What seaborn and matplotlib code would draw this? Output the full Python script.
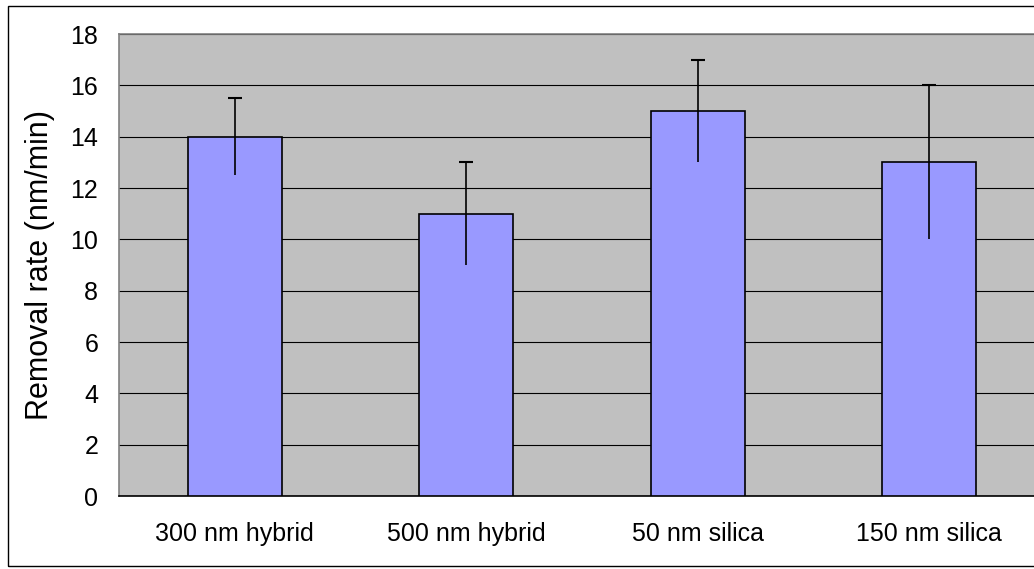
import matplotlib
matplotlib.use("Agg")
import matplotlib.pyplot as plt
import matplotlib.patches as mpatches
import seaborn as sns
import pandas as pd
import numpy as np

categories = ["300 nm hybrid", "500 nm hybrid", "50 nm silica", "150 nm silica"]
removal_rate = [14, 11, 15, 13]
rate_error = [1.5, 2, 2, 3]
y_ticks = [0, 2, 4, 6, 8, 10, 12, 14, 16, 18]

df = pd.DataFrame({"sample": categories, "rate": removal_rate})

sns.set_style("white")
plt.rcParams["font.family"] = ["Liberation Sans", "DejaVu Sans"]
plt.rcParams["text.color"] = "black"
plt.rcParams["axes.labelcolor"] = "black"
plt.rcParams["xtick.color"] = "black"
plt.rcParams["ytick.color"] = "black"

W, H = 1034, 569
fig = plt.figure(figsize=(W / 100, H / 100), dpi=100)
fig.patch.set_facecolor("white")

# outer chart border (right side runs past the canvas)
fig.add_artist(mpatches.Rectangle((8 / W, 1 - 566 / H), 1.2, (566 - 6) / H,
                                  transform=fig.transFigure, fill=False,
                                  edgecolor="black", linewidth=1.0, clip_on=False))

left, right, top, bottom = 119, 1045, 34, 496
ax = fig.add_axes([left / W, 1 - bottom / H, (right - left) / W, (bottom - top) / H])
ax.set_facecolor("#C0C0C0")

sns.barplot(data=df, x="sample", y="rate", ax=ax, color="#9999FF",
            edgecolor="black", linewidth=1.2, width=0.406, saturation=1,
            errorbar=None, zorder=3)

xs = np.arange(len(categories))
vals = np.array(removal_rate, dtype=float)
errs = np.array(rate_error, dtype=float)
ax.errorbar(xs, vals, yerr=errs, fmt="none", ecolor="black", elinewidth=1.2,
            capsize=0, zorder=4)
ax.plot(xs, vals + errs, linestyle="none", marker="_", markersize=10,
        markeredgewidth=1.5, color="black", zorder=4)

ax.set_ylim(0, 18)
ax.set_xlim(-0.5, len(categories) - 0.5)
ax.set_yticks(y_ticks)
ax.set_yticklabels([str(t) for t in y_ticks], fontsize=18, color="black")
ax.yaxis.grid(True, color="black", linewidth=0.8, zorder=1)
ax.set_axisbelow(True)

# category separators as major ticks, labels on minor ticks at centres
ax.set_xticks(np.arange(-0.5, len(categories), 1.0))
ax.set_xticklabels([])
ax.set_xticks(xs, minor=True)
ax.set_xticklabels(categories, minor=True, fontsize=18, color="black")
ax.tick_params(axis="x", which="minor", length=0, pad=19)
ax.tick_params(axis="x", which="major", length=7, width=1, color="black", direction="out")
ax.tick_params(axis="y", length=7, width=1, color="black", direction="out", pad=8)

ax.set_xlabel("")
ax.set_ylabel("Removal rate (nm/min)", fontsize=22, labelpad=11, color="black")

for s in ["left", "top"]:
    ax.spines[s].set_color("#808080")
    ax.spines[s].set_linewidth(1.2)
ax.spines["bottom"].set_color("black")
ax.spines["bottom"].set_linewidth(1.2)
ax.spines["right"].set_visible(False)

fig.savefig("out.png", dpi=100)
